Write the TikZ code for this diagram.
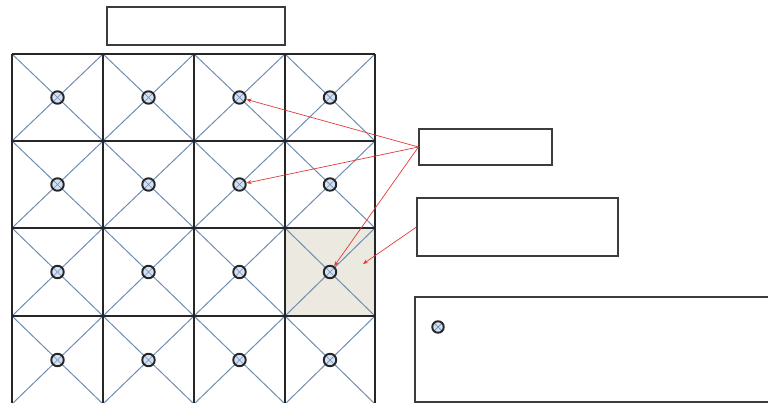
\documentclass[tikz,border=0pt]{standalone}
\usetikzlibrary{arrows.meta}
\definecolor{diagc}{HTML}{6F8DB3}
\definecolor{symfill}{HTML}{D3E1F3}
\definecolor{shadec}{HTML}{ECE9E0}
\definecolor{boxc}{HTML}{3C3C3C}
\definecolor{arrc}{HTML}{E03A3A}
\begin{document}
\begin{tikzpicture}[x=1pt,y=-1pt,
  gridline/.style={line width=1.4pt,black!85},
  diag/.style={line width=1pt,diagc},
  sym/.style={circle,draw=black!85,line width=1.9pt,fill=symfill,minimum size=12.5pt,inner sep=0pt,
    path picture={\draw[diagc,line width=0.7pt] (path picture bounding box.north west) -- (path picture bounding box.south east)
      (path picture bounding box.north east) -- (path picture bounding box.south west);}},
  box/.style={draw=boxc,line width=1.1pt,fill=white,inner sep=0pt},
  redarrow/.style={draw=arrc,line width=0.7pt,-{Stealth[length=5pt,width=4pt]}}]
\useasboundingbox (0,0) rectangle (768,403);
\clip (0,0) rectangle (768,403);
% shaded cell
\fill[shadec] (285,228) rectangle (375,316);
% diagonals
\foreach \xa/\xb in {12/103,103/194,194/285,285/375}{
  \foreach \ya/\yb in {54/141,141/228,228/316,316/404}{
    \draw[diag] (\xa,\ya) -- (\xb,\yb) (\xb,\ya) -- (\xa,\yb);
  }}
% grid
\foreach \x in {12,103,194,285,375} \draw[gridline] (\x,54) -- (\x,405);
\foreach \y in {54,141,228,316,404} \draw[gridline] (12,\y) -- (375,\y);
% symbols
\foreach \c/\x in {1/57.5,2/148.5,3/239.5,4/330}{
  \foreach \r/\y in {1/97.5,2/184.5,3/272,4/360}{
    \node[sym] (c\r\c) at (\x,\y) {};
  }}
% boxes
\node[box,minimum width=178pt,minimum height=38pt] (top) at (196,26) {};
\node[box,minimum width=133pt,minimum height=36pt] (b1) at (485.5,147) {};
\node[box,minimum width=201pt,minimum height=58pt] (b2) at (517.5,227) {};
\node[box,minimum width=356pt,minimum height=105pt] (b3) at (593,349.5) {};
\node[sym,minimum size=11.5pt] (leg) at (438,327) {};
% arrows
\coordinate (t4) at (363,264);
\draw[redarrow] (b1.west) -- (c13);
\draw[redarrow] (b1.west) -- (c23);
\draw[redarrow] (b1.west) -- (c34);
\draw[redarrow] (b2.west) -- (t4);
\end{tikzpicture}
\end{document}
